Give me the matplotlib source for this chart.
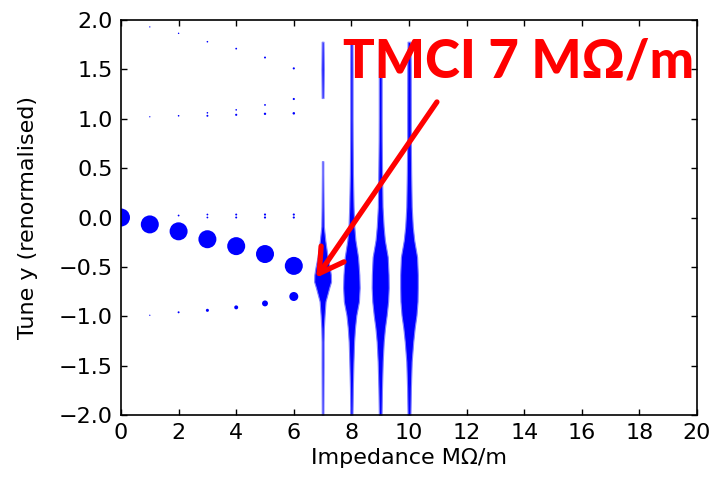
import numpy as np
import matplotlib
matplotlib.use('Agg')
import matplotlib.pyplot as plt

# stable modes below threshold: impedance, tune, relative amplitude
imp_main = [0, 1, 2, 3, 4, 5, 6]
tune_main = [0.0, -0.07, -0.14, -0.22, -0.29, -0.37, -0.49]
amp_main = [1.0, 1.0, 1.0, 1.0, 1.0, 1.0, 1.0]

imp_low = [1, 2, 3, 4, 5, 6]
tune_low = [-0.99, -0.96, -0.94, -0.91, -0.87, -0.80]
amp_low = [0.07, 0.11, 0.17, 0.22, 0.33, 0.5]

imp_zero = [2, 3, 4, 5, 6, 3, 4, 5, 6]
tune_zero = [0.02, 0.03, 0.03, 0.03, 0.03, 0.0, 0.0, 0.0, 0.0]
amp_zero = [0.1, 0.1, 0.11, 0.12, 0.12, 0.1, 0.11, 0.12, 0.12]

imp_up1 = [1, 2, 3, 3, 4, 4, 5, 5, 6, 6]
tune_up1 = [1.02, 1.03, 1.06, 1.03, 1.09, 1.04, 1.14, 1.05, 1.20, 1.055]
amp_up1 = [0.07, 0.09, 0.09, 0.11, 0.09, 0.12, 0.1, 0.13, 0.12, 0.14]

imp_up2 = [1, 2, 3, 4, 5, 6]
tune_up2 = [1.93, 1.865, 1.78, 1.71, 1.62, 1.51]
amp_up2 = [0.07, 0.08, 0.09, 0.1, 0.11, 0.12]

# broadened spectra above threshold (tune, relative amplitude)
tune_v = [1.78, 1.5, 1.0, 0.78, 0.45, 0.11, -0.09, -0.23, -0.40, -0.58,
          -0.71, -0.85, -0.99, -1.12, -1.26, -1.46, -1.73, -2.0]
amp_v8 = [0.12, 0.13, 0.13, 0.14, 0.17, 0.24, 0.32, 0.45, 0.74, 0.88, 0.92,
          0.84, 0.55, 0.4, 0.3, 0.23, 0.16, 0.12]
amp_v9 = [0.14, 0.16, 0.16, 0.17, 0.21, 0.26, 0.38, 0.52, 0.84, 0.93, 0.95,
          0.88, 0.72, 0.53, 0.39, 0.28, 0.2, 0.15]
amp_v10 = [0.16, 0.19, 0.2, 0.2, 0.24, 0.3, 0.42, 0.58, 0.9, 0.98, 0.98,
           0.95, 0.83, 0.63, 0.47, 0.3, 0.21, 0.16]

tune_v7 = [0.57, 0.45, 0.11, -0.09, -0.23, -0.40, -0.50, -0.58, -0.65,
           -0.71, -0.85, -0.99, -1.12, -1.26, -1.5, -2.0]
amp_v7 = [0.08, 0.08, 0.11, 0.14, 0.3, 0.56, 0.78, 0.92, 0.94, 0.74, 0.33,
          0.22, 0.14, 0.11, 0.11, 0.09]
tune_v7_top = [1.78, 1.5, 1.21]
amp_v7_top = [0.1, 0.13, 0.1]

blue = (0, 0, 1)
red = (1, 0, 0)

fig = plt.figure(figsize=(7.24, 4.78), dpi=100)
ax_w_px = 576
ax = fig.add_axes([121 / 724, 1 - 415 / 478, ax_w_px / 724, 395 / 478])
ax.set_xlim(0, 20)
ax.set_ylim(-2, 2)

dot_px = 18.0  # diameter of a unit-amplitude dot


def size_of(amp):
    return (np.array(amp) * dot_px * 72 / 100) ** 2


for imp, tune, amp in [(imp_main, tune_main, amp_main),
                       (imp_low, tune_low, amp_low),
                       (imp_zero, tune_zero, amp_zero),
                       (imp_up1, tune_up1, amp_up1),
                       (imp_up2, tune_up2, amp_up2)]:
    ax.scatter(imp, tune, s=size_of(amp), color=blue, linewidths=0, zorder=2)

px2data = 20.0 / ax_w_px


def violin(x0, tune, amp):
    hw = np.array(amp) * dot_px / 2 * px2data
    ax.fill_betweenx(tune, x0 - hw, x0 + hw, color=blue, lw=0.8,
                     edgecolor=(0.5, 0.5, 1), zorder=2)


violin(7, tune_v7, amp_v7)
violin(7, tune_v7_top, amp_v7_top)
violin(8, tune_v, amp_v8)
violin(9, tune_v, amp_v9)
violin(10, tune_v, amp_v10)

ax.set_xticks(range(0, 21, 2))
ax.set_yticks(np.arange(-2, 2.01, 0.5))
ax.tick_params(direction='in', top=True, right=True, length=4, width=1,
               labelsize=16, pad=6)
for sp in ax.spines.values():
    sp.set_linewidth(1.2)

ax.set_xlabel('Impedance M\u03a9/m', fontsize=16, labelpad=3)
ax.set_ylabel('Tune y (renormalised)', fontsize=16, labelpad=15)

ax.annotate('', xy=(6.78, -0.61), xytext=(10.97, 1.17),
            arrowprops=dict(arrowstyle='->,head_length=0.85,head_width=0.5',
                            lw=3.8, color=red, shrinkA=0, shrinkB=0,
                            mutation_scale=20), zorder=5)

fig.text(343 / 724, 1 - 77 / 478, 'TMCI 7 M\u03a9/m', color=red,
         fontsize=38, fontweight='black', family=['Lato', 'DejaVu Sans'],
         ha='left', va='baseline', zorder=6)

fig.savefig('out.png', dpi=100)
